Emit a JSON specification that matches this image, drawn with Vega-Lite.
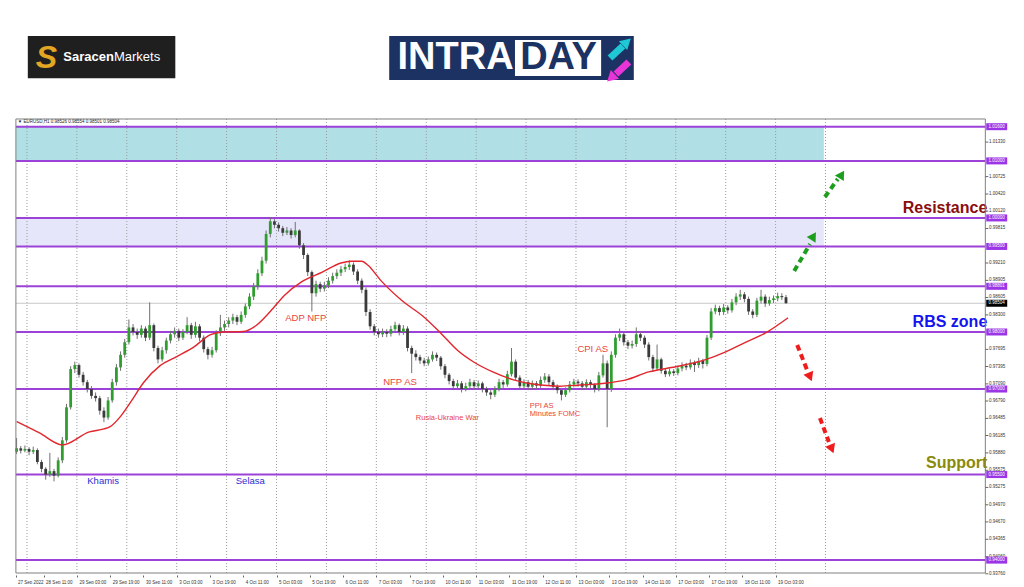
{
"$schema":"https://vega.github.io/schema/vega-lite/v6.json",
"width":1024,"height":575,"padding":0,"autosize":{"type":"pad"},
"background":"#ffffff",
"config":{"view":{"stroke":null},"font":"Liberation Sans","axis":{"labelOverlap":false}},
"resolve":{"scale":{"color":"independent"}},
"datasets":{
"candles":[
{"t":3,"o":0.9590,"h":0.9614,"l":0.9586,"c":0.9596},
{"t":5,"o":0.9596,"h":0.9600,"l":0.9587,"c":0.9592},
{"t":7,"o":0.9592,"h":0.9601,"l":0.9589,"c":0.9595},
{"t":9,"o":0.9595,"h":0.9598,"l":0.9584,"c":0.9590},
{"t":11,"o":0.9590,"h":0.9599,"l":0.9586,"c":0.9593},
{"t":13,"o":0.9593,"h":0.9596,"l":0.9568,"c":0.9572},
{"t":15,"o":0.9572,"h":0.9576,"l":0.9554,"c":0.9560},
{"t":17,"o":0.9560,"h":0.9563,"l":0.9541,"c":0.9550},
{"t":19,"o":0.9550,"h":0.9588,"l":0.9546,"c":0.9556},
{"t":21,"o":0.9556,"h":0.9560,"l":0.9538,"c":0.9548},
{"t":23,"o":0.9548,"h":0.9580,"l":0.9545,"c":0.9575},
{"t":25,"o":0.9575,"h":0.9616,"l":0.9570,"c":0.9610},
{"t":27,"o":0.9610,"h":0.9674,"l":0.9606,"c":0.9668},
{"t":29,"o":0.9668,"h":0.9740,"l":0.9664,"c":0.9735},
{"t":31,"o":0.9735,"h":0.9748,"l":0.9728,"c":0.9742},
{"t":33,"o":0.9742,"h":0.9745,"l":0.9720,"c":0.9725},
{"t":35,"o":0.9725,"h":0.9730,"l":0.9706,"c":0.9712},
{"t":37,"o":0.9712,"h":0.9716,"l":0.9694,"c":0.9700},
{"t":39,"o":0.9700,"h":0.9705,"l":0.9683,"c":0.9688},
{"t":41,"o":0.9688,"h":0.9694,"l":0.9678,"c":0.9684},
{"t":43,"o":0.9684,"h":0.9688,"l":0.9655,"c":0.9662},
{"t":45,"o":0.9662,"h":0.9668,"l":0.9642,"c":0.9650},
{"t":47,"o":0.9650,"h":0.9686,"l":0.9646,"c":0.9680},
{"t":49,"o":0.9680,"h":0.9718,"l":0.9676,"c":0.9712},
{"t":51,"o":0.9712,"h":0.9744,"l":0.9706,"c":0.9738},
{"t":53,"o":0.9738,"h":0.9766,"l":0.9732,"c":0.9760},
{"t":55,"o":0.9760,"h":0.9788,"l":0.9755,"c":0.9782},
{"t":57,"o":0.9782,"h":0.9822,"l":0.9778,"c":0.9808},
{"t":59,"o":0.9808,"h":0.9814,"l":0.9794,"c":0.9800},
{"t":61,"o":0.9800,"h":0.9806,"l":0.9788,"c":0.9795},
{"t":63,"o":0.9795,"h":0.9812,"l":0.9790,"c":0.9806},
{"t":65,"o":0.9806,"h":0.9810,"l":0.9784,"c":0.9790},
{"t":67,"o":0.9790,"h":0.9852,"l":0.9786,"c":0.9812},
{"t":69,"o":0.9812,"h":0.9815,"l":0.9766,"c":0.9772},
{"t":71,"o":0.9772,"h":0.9776,"l":0.9745,"c":0.9752},
{"t":73,"o":0.9752,"h":0.9774,"l":0.9748,"c":0.9768},
{"t":75,"o":0.9768,"h":0.9790,"l":0.9762,"c":0.9785},
{"t":77,"o":0.9785,"h":0.9802,"l":0.9780,"c":0.9796},
{"t":79,"o":0.9796,"h":0.9808,"l":0.9790,"c":0.9802},
{"t":81,"o":0.9802,"h":0.9806,"l":0.9784,"c":0.9790},
{"t":83,"o":0.9790,"h":0.9805,"l":0.9786,"c":0.9800},
{"t":85,"o":0.9800,"h":0.9826,"l":0.9796,"c":0.9812},
{"t":87,"o":0.9812,"h":0.9816,"l":0.9788,"c":0.9795},
{"t":89,"o":0.9795,"h":0.9818,"l":0.9790,"c":0.9810},
{"t":91,"o":0.9810,"h":0.9814,"l":0.9784,"c":0.9790},
{"t":93,"o":0.9790,"h":0.9794,"l":0.9764,"c":0.9770},
{"t":95,"o":0.9770,"h":0.9774,"l":0.9752,"c":0.9760},
{"t":97,"o":0.9760,"h":0.9774,"l":0.9755,"c":0.9768},
{"t":99,"o":0.9768,"h":0.9803,"l":0.9764,"c":0.9798},
{"t":101,"o":0.9798,"h":0.9830,"l":0.9793,"c":0.9808},
{"t":103,"o":0.9808,"h":0.9820,"l":0.9802,"c":0.9814},
{"t":105,"o":0.9814,"h":0.9826,"l":0.9808,"c":0.9820},
{"t":107,"o":0.9820,"h":0.9832,"l":0.9814,"c":0.9826},
{"t":109,"o":0.9826,"h":0.9830,"l":0.9812,"c":0.9818},
{"t":111,"o":0.9818,"h":0.9836,"l":0.9814,"c":0.9830},
{"t":113,"o":0.9830,"h":0.9850,"l":0.9825,"c":0.9845},
{"t":115,"o":0.9845,"h":0.9868,"l":0.9840,"c":0.9862},
{"t":117,"o":0.9862,"h":0.9886,"l":0.9856,"c":0.9880},
{"t":119,"o":0.9880,"h":0.9910,"l":0.9874,"c":0.9903},
{"t":121,"o":0.9903,"h":0.9932,"l":0.9898,"c":0.9925},
{"t":123,"o":0.9925,"h":0.9978,"l":0.9920,"c":0.9972},
{"t":125,"o":0.9972,"h":1.0001,"l":0.9966,"c":0.9994},
{"t":127,"o":0.9994,"h":0.9998,"l":0.9982,"c":0.9988},
{"t":129,"o":0.9988,"h":0.9992,"l":0.9976,"c":0.9982},
{"t":131,"o":0.9982,"h":0.9986,"l":0.9968,"c":0.9974},
{"t":133,"o":0.9974,"h":0.9984,"l":0.9970,"c":0.9978},
{"t":135,"o":0.9978,"h":0.9982,"l":0.9964,"c":0.9970},
{"t":137,"o":0.9970,"h":0.9993,"l":0.9966,"c":0.9978},
{"t":139,"o":0.9978,"h":0.9980,"l":0.9946,"c":0.9952},
{"t":141,"o":0.9952,"h":0.9956,"l":0.9928,"c":0.9935},
{"t":143,"o":0.9935,"h":0.9938,"l":0.9898,"c":0.9905},
{"t":145,"o":0.9905,"h":0.9908,"l":0.9836,"c":0.9868},
{"t":147,"o":0.9868,"h":0.9890,"l":0.9862,"c":0.9884},
{"t":149,"o":0.9884,"h":0.9888,"l":0.9870,"c":0.9876},
{"t":151,"o":0.9876,"h":0.9888,"l":0.9871,"c":0.9882},
{"t":153,"o":0.9882,"h":0.9896,"l":0.9877,"c":0.9890},
{"t":155,"o":0.9890,"h":0.9904,"l":0.9885,"c":0.9898},
{"t":157,"o":0.9898,"h":0.9910,"l":0.9893,"c":0.9904},
{"t":159,"o":0.9904,"h":0.9916,"l":0.9898,"c":0.9910},
{"t":161,"o":0.9910,"h":0.9920,"l":0.9905,"c":0.9914},
{"t":163,"o":0.9914,"h":0.9926,"l":0.9909,"c":0.9918},
{"t":165,"o":0.9918,"h":0.9922,"l":0.9900,"c":0.9906},
{"t":167,"o":0.9906,"h":0.9910,"l":0.9884,"c":0.9890},
{"t":169,"o":0.9890,"h":0.9894,"l":0.9868,"c":0.9874},
{"t":171,"o":0.9874,"h":0.9878,"l":0.9828,"c":0.9835},
{"t":173,"o":0.9835,"h":0.9840,"l":0.9804,"c":0.9810},
{"t":175,"o":0.9810,"h":0.9814,"l":0.9794,"c":0.9800},
{"t":177,"o":0.9800,"h":0.9806,"l":0.9790,"c":0.9796},
{"t":179,"o":0.9796,"h":0.9806,"l":0.9791,"c":0.9800},
{"t":181,"o":0.9800,"h":0.9805,"l":0.9791,"c":0.9797},
{"t":183,"o":0.9797,"h":0.9811,"l":0.9792,"c":0.9805},
{"t":185,"o":0.9805,"h":0.9818,"l":0.9800,"c":0.9812},
{"t":187,"o":0.9812,"h":0.9815,"l":0.9794,"c":0.9800},
{"t":189,"o":0.9800,"h":0.9812,"l":0.9795,"c":0.9806},
{"t":191,"o":0.9806,"h":0.9810,"l":0.9766,"c":0.9772},
{"t":193,"o":0.9772,"h":0.9776,"l":0.9728,"c":0.9762},
{"t":195,"o":0.9762,"h":0.9768,"l":0.9750,"c":0.9756},
{"t":197,"o":0.9756,"h":0.9760,"l":0.9744,"c":0.9750},
{"t":199,"o":0.9750,"h":0.9755,"l":0.9740,"c":0.9745},
{"t":201,"o":0.9745,"h":0.9757,"l":0.9741,"c":0.9752},
{"t":203,"o":0.9752,"h":0.9766,"l":0.9748,"c":0.9760},
{"t":205,"o":0.9760,"h":0.9764,"l":0.9749,"c":0.9755},
{"t":207,"o":0.9755,"h":0.9758,"l":0.9734,"c":0.9740},
{"t":209,"o":0.9740,"h":0.9744,"l":0.9719,"c":0.9725},
{"t":211,"o":0.9725,"h":0.9728,"l":0.9708,"c":0.9714},
{"t":213,"o":0.9714,"h":0.9718,"l":0.9698,"c":0.9705},
{"t":215,"o":0.9705,"h":0.9716,"l":0.9700,"c":0.9710},
{"t":217,"o":0.9710,"h":0.9714,"l":0.9694,"c":0.9700},
{"t":219,"o":0.9700,"h":0.9711,"l":0.9696,"c":0.9705},
{"t":221,"o":0.9705,"h":0.9718,"l":0.9700,"c":0.9712},
{"t":223,"o":0.9712,"h":0.9716,"l":0.9699,"c":0.9705},
{"t":225,"o":0.9705,"h":0.9715,"l":0.9700,"c":0.9710},
{"t":227,"o":0.9710,"h":0.9713,"l":0.9694,"c":0.9700},
{"t":229,"o":0.9700,"h":0.9704,"l":0.9688,"c":0.9694},
{"t":231,"o":0.9694,"h":0.9698,"l":0.9682,"c":0.9690},
{"t":233,"o":0.9690,"h":0.9705,"l":0.9686,"c":0.9700},
{"t":235,"o":0.9700,"h":0.9718,"l":0.9696,"c":0.9712},
{"t":237,"o":0.9712,"h":0.9716,"l":0.9702,"c":0.9708},
{"t":239,"o":0.9708,"h":0.9732,"l":0.9704,"c":0.9726},
{"t":241,"o":0.9726,"h":0.9772,"l":0.9722,"c":0.9748},
{"t":243,"o":0.9748,"h":0.9752,"l":0.9714,"c":0.9720},
{"t":245,"o":0.9720,"h":0.9724,"l":0.9699,"c":0.9705},
{"t":247,"o":0.9705,"h":0.9717,"l":0.9700,"c":0.9712},
{"t":249,"o":0.9712,"h":0.9716,"l":0.9698,"c":0.9704},
{"t":251,"o":0.9704,"h":0.9715,"l":0.9699,"c":0.9710},
{"t":253,"o":0.9710,"h":0.9714,"l":0.9700,"c":0.9706},
{"t":255,"o":0.9706,"h":0.9722,"l":0.9702,"c":0.9716},
{"t":257,"o":0.9716,"h":0.9728,"l":0.9711,"c":0.9722},
{"t":259,"o":0.9722,"h":0.9726,"l":0.9706,"c":0.9712},
{"t":261,"o":0.9712,"h":0.9716,"l":0.9698,"c":0.9704},
{"t":263,"o":0.9704,"h":0.9708,"l":0.9692,"c":0.9698},
{"t":265,"o":0.9698,"h":0.9702,"l":0.9680,"c":0.9690},
{"t":267,"o":0.9690,"h":0.9703,"l":0.9686,"c":0.9698},
{"t":269,"o":0.9698,"h":0.9714,"l":0.9694,"c":0.9708},
{"t":271,"o":0.9708,"h":0.9718,"l":0.9703,"c":0.9713},
{"t":273,"o":0.9713,"h":0.9717,"l":0.9704,"c":0.9710},
{"t":275,"o":0.9710,"h":0.9714,"l":0.9698,"c":0.9704},
{"t":277,"o":0.9704,"h":0.9717,"l":0.9700,"c":0.9712},
{"t":279,"o":0.9712,"h":0.9716,"l":0.9701,"c":0.9707},
{"t":281,"o":0.9707,"h":0.9710,"l":0.9694,"c":0.9700},
{"t":283,"o":0.9700,"h":0.9730,"l":0.9696,"c":0.9724},
{"t":285,"o":0.9724,"h":0.9760,"l":0.9720,"c":0.9745},
{"t":287,"o":0.9745,"h":0.9750,"l":0.9633,"c":0.9700},
{"t":289,"o":0.9700,"h":0.9766,"l":0.9695,"c":0.9760},
{"t":291,"o":0.9760,"h":0.9796,"l":0.9755,"c":0.9790},
{"t":293,"o":0.9790,"h":0.9806,"l":0.9784,"c":0.9796},
{"t":295,"o":0.9796,"h":0.9800,"l":0.9776,"c":0.9782},
{"t":297,"o":0.9782,"h":0.9786,"l":0.9770,"c":0.9776},
{"t":299,"o":0.9776,"h":0.9785,"l":0.9771,"c":0.9779},
{"t":301,"o":0.9779,"h":0.9808,"l":0.9774,"c":0.9796},
{"t":303,"o":0.9796,"h":0.9800,"l":0.9784,"c":0.9790},
{"t":305,"o":0.9790,"h":0.9794,"l":0.9772,"c":0.9778},
{"t":307,"o":0.9778,"h":0.9782,"l":0.9750,"c":0.9756},
{"t":309,"o":0.9756,"h":0.9760,"l":0.9730,"c":0.9736},
{"t":311,"o":0.9736,"h":0.9778,"l":0.9732,"c":0.9752},
{"t":313,"o":0.9752,"h":0.9755,"l":0.9727,"c":0.9732},
{"t":315,"o":0.9732,"h":0.9736,"l":0.9721,"c":0.9726},
{"t":317,"o":0.9726,"h":0.9736,"l":0.9722,"c":0.9731},
{"t":319,"o":0.9731,"h":0.9735,"l":0.9723,"c":0.9728},
{"t":321,"o":0.9728,"h":0.9741,"l":0.9724,"c":0.9736},
{"t":323,"o":0.9736,"h":0.9747,"l":0.9731,"c":0.9741},
{"t":325,"o":0.9741,"h":0.9746,"l":0.9733,"c":0.9738},
{"t":327,"o":0.9738,"h":0.9752,"l":0.9734,"c":0.9746},
{"t":329,"o":0.9746,"h":0.9750,"l":0.9730,"c":0.9742},
{"t":331,"o":0.9742,"h":0.9755,"l":0.9737,"c":0.9749},
{"t":333,"o":0.9749,"h":0.9753,"l":0.9736,"c":0.9744},
{"t":335,"o":0.9744,"h":0.9795,"l":0.9740,"c":0.9790},
{"t":337,"o":0.9790,"h":0.9842,"l":0.9786,"c":0.9836},
{"t":339,"o":0.9836,"h":0.9848,"l":0.9831,"c":0.9842},
{"t":341,"o":0.9842,"h":0.9846,"l":0.9829,"c":0.9835},
{"t":343,"o":0.9835,"h":0.9849,"l":0.9830,"c":0.9843},
{"t":345,"o":0.9843,"h":0.9847,"l":0.9832,"c":0.9838},
{"t":347,"o":0.9838,"h":0.9858,"l":0.9834,"c":0.9852},
{"t":349,"o":0.9852,"h":0.9868,"l":0.9847,"c":0.9862},
{"t":351,"o":0.9862,"h":0.9874,"l":0.9856,"c":0.9866},
{"t":353,"o":0.9866,"h":0.9870,"l":0.9852,"c":0.9858},
{"t":355,"o":0.9858,"h":0.9862,"l":0.9830,"c":0.9836},
{"t":357,"o":0.9836,"h":0.9840,"l":0.9824,"c":0.9830},
{"t":359,"o":0.9830,"h":0.9860,"l":0.9826,"c":0.9855},
{"t":361,"o":0.9855,"h":0.9874,"l":0.9850,"c":0.9862},
{"t":363,"o":0.9862,"h":0.9866,"l":0.9844,"c":0.9850},
{"t":365,"o":0.9850,"h":0.9862,"l":0.9846,"c":0.9856},
{"t":367,"o":0.9856,"h":0.9864,"l":0.9851,"c":0.9859},
{"t":369,"o":0.9859,"h":0.9869,"l":0.9854,"c":0.9863},
{"t":371,"o":0.9863,"h":0.9868,"l":0.9856,"c":0.9861},
{"t":373,"o":0.9861,"h":0.9865,"l":0.9850,"c":0.98504}
],
"ma":[
{"t":3,"v":0.9643},{"t":14,"v":0.9623},{"t":25,"v":0.9602},{"t":38,"v":0.9625},{"t":45,"v":0.9630},{"t":48,"v":0.9634},{"t":53,"v":0.9652},{"t":58,"v":0.9678},{"t":64,"v":0.9711},{"t":72,"v":0.9741},{"t":80,"v":0.9757},{"t":88,"v":0.9773},{"t":96,"v":0.9795},{"t":102,"v":0.9800},{"t":112,"v":0.9801},{"t":118,"v":0.9811},{"t":125,"v":0.9836},{"t":132,"v":0.9865},{"t":140,"v":0.9888},{"t":150,"v":0.9905},{"t":159,"v":0.9921},{"t":164,"v":0.9924},{"t":169,"v":0.9924},{"t":172,"v":0.9917},{"t":178,"v":0.9891},{"t":188,"v":0.9856},{"t":199,"v":0.9826},{"t":207,"v":0.9798},{"t":215,"v":0.9768},{"t":223,"v":0.9747},{"t":232,"v":0.9730},{"t":242,"v":0.9716},{"t":255,"v":0.9707},{"t":264,"v":0.9705},{"t":274,"v":0.9707},{"t":288,"v":0.9711},{"t":296,"v":0.9716},{"t":307,"v":0.9730},{"t":320,"v":0.9739},{"t":334,"v":0.9751},{"t":344,"v":0.9765},{"t":353,"v":0.9781},{"t":363,"v":0.9798},{"t":374,"v":0.9825}
],
"levels":[
{"p":1.016,"lab":"1.01600"},{"p":1.01,"lab":"1.01000"},{"p":1.0,"lab":"1.00000"},{"p":0.995,"lab":"0.99500"},{"p":0.98801,"lab":"0.98801"},{"p":0.98,"lab":"0.98000"},{"p":0.97,"lab":"0.97000"},{"p":0.955,"lab":"0.95500"},{"p":0.94,"lab":"0.94000"}
],
"yticks":[{"p":1.0133},{"p":1.00725},{"p":1.0042},{"p":1.0012},{"p":0.99815},{"p":0.9921},{"p":0.98905},{"p":0.98605},{"p":0.983},{"p":0.97695},{"p":0.97395},{"p":0.9709},{"p":0.9679},{"p":0.96485},{"p":0.96185},{"p":0.9588},{"p":0.95575},{"p":0.95275},{"p":0.9497},{"p":0.9467},{"p":0.94365},{"p":0.9406},{"p":0.9376}],
"quote":[{"p":0.98504,"lab":"0.98504"}],
"grid":[{"t":8},{"t":32},{"t":56},{"t":80},{"t":104},{"t":128},{"t":152},{"t":176},{"t":200},{"t":224},{"t":248},{"t":272},{"t":296},{"t":320},{"t":344},{"t":368},{"t":392}],
"zones":[
{"zone":"upper","t1":2.67,"t2":391.2,"p1":1.010,"p2":1.016},
{"zone":"lower","t1":2.67,"t2":391.2,"p1":0.995,"p2":1.000}
],
"notes":[
{"kind":"ev","t":132.2,"p":0.9824,"text":"ADP NFP"},
{"kind":"ev","t":179.3,"p":0.9713,"text":"NFP AS"},
{"kind":"ev","t":272.7,"p":0.9770,"text":"CPI AS"},
{"kind":"evs","t":195.0,"p":0.9650,"text":"Rusia-Ukraine War"},
{"kind":"evs","t":249.8,"p":0.9671,"text":"PPI AS"},
{"kind":"evs","t":249.8,"p":0.9656,"text":"Minutes FOMC"},
{"kind":"day","t":37.0,"p":0.9539,"text":"Khamis"},
{"kind":"day","t":108.4,"p":0.9539,"text":"Selasa"},
{"kind":"hdr","t":3.6,"p":1.01682,"text":"▼ EURUSD,H1  0.98526 0.98554 0.98501 0.98504"}
],
"big":[
{"t":469.8,"p":1.0018,"text":"Resistance"},
{"t":469.8,"p":0.9818,"text":"RBS zone"},
{"t":469.8,"p":0.9570,"text":"Support"}
],
"arrows":[
{"dir":"up","x1":376.95,"p1":0.9907,"x2":384.57,"p2":0.99543,"hx":386.24,"hp":0.99683},
{"dir":"up","x1":391.71,"p1":1.00367,"x2":397.9,"p2":1.00683,"hx":399.81,"hp":1.00762},
{"dir":"down","x1":378.38,"p1":0.97772,"x2":383.14,"p2":0.97334,"hx":384.57,"hp":0.97211},
{"dir":"down","x1":389.33,"p1":0.96492,"x2":393.62,"p2":0.96071,"hx":395.05,"hp":0.95949}
],
"logos":[
{"name":"saracen","t1":8.4,"t2":79.33,"p1":1.02449,"p2":1.0319},
{"name":"intraday","t1":182.19,"t2":299.81,"p1":1.02419,"p2":1.0319},
{"name":"daybox","t1":242.67,"t2":284.1,"p1":1.02489,"p2":1.0312}
],
"logoText":[
{"kind":"S","t":17.4,"p":1.0281,"text":"S"},
{"kind":"bold","t":25.5,"p":1.0282,"text":"Saracen"},
{"kind":"reg","t":49.8,"p":1.0282,"text":"Markets"},
{"kind":"intra","t":214.1,"p":1.0280,"text":"INTRA"},
{"kind":"dayw","t":263.6,"p":1.0280,"text":"DAY"}
],
"logoArrows":[
{"dir":"up","x1":288.38,"p1":1.02805,"x2":294.57,"p2":1.03015,"hx":296.48,"hp":1.03085},
{"dir":"down","x1":297.43,"p1":1.02734,"x2":291.24,"p2":1.02524,"hx":288.86,"hp":1.02454}
],
"frame":[{"t1":2.67,"t2":468.86,"p1":0.93774,"p2":1.01735}]
},
"layer":[
{"data":{"name":"logos"},"mark":{"type":"rect"},
 "encoding":{"x":{"field":"t1","type":"quantitative","scale":{"domain":[-2.5714,485.0476],"nice":false,"zero":false}},"x2":{"field":"t2"},
 "y":{"field":"p1","type":"quantitative","scale":{"domain":[0.93739,1.038216],"nice":false,"zero":false}},"y2":{"field":"p2"},
 "color":{"field":"name","type":"nominal","scale":{"domain":["saracen","intraday","daybox"],"range":["#1f1f1f","#1b3263","#ffffff"]},"legend":null}}},
{"data":{"name":"logoText"},"transform":[{"filter":"datum.kind == 'S'"}],"mark":{"type":"text","font":"Liberation Sans","fontWeight":"bold","fontStyle":"italic","fontSize":32,"color":"#e2a623","align":"center","baseline":"middle"},
 "encoding":{"x":{"field":"t","type":"quantitative","scale":{"domain":[-2.5714,485.0476],"nice":false,"zero":false}},"y":{"field":"p","type":"quantitative","scale":{"domain":[0.93739,1.038216],"nice":false,"zero":false}},"text":{"field":"text","type":"nominal"}}},
{"data":{"name":"logoText"},"transform":[{"filter":"datum.kind == 'bold'"}],"mark":{"type":"text","font":"Liberation Sans","fontWeight":"bold","fontSize":13,"color":"#ffffff","align":"left","baseline":"middle"},
 "encoding":{"x":{"field":"t","type":"quantitative","scale":{"domain":[-2.5714,485.0476],"nice":false,"zero":false}},"y":{"field":"p","type":"quantitative","scale":{"domain":[0.93739,1.038216],"nice":false,"zero":false}},"text":{"field":"text","type":"nominal"}}},
{"data":{"name":"logoText"},"transform":[{"filter":"datum.kind == 'reg'"}],"mark":{"type":"text","font":"Liberation Sans","fontSize":13,"color":"#ffffff","align":"left","baseline":"middle"},
 "encoding":{"x":{"field":"t","type":"quantitative","scale":{"domain":[-2.5714,485.0476],"nice":false,"zero":false}},"y":{"field":"p","type":"quantitative","scale":{"domain":[0.93739,1.038216],"nice":false,"zero":false}},"text":{"field":"text","type":"nominal"}}},
{"data":{"name":"logoText"},"transform":[{"filter":"datum.kind == 'intra'"}],"mark":{"type":"text","font":"Liberation Sans","fontWeight":"bold","fontSize":38,"color":"#ffffff","align":"center","baseline":"middle"},
 "encoding":{"x":{"field":"t","type":"quantitative","scale":{"domain":[-2.5714,485.0476],"nice":false,"zero":false}},"y":{"field":"p","type":"quantitative","scale":{"domain":[0.93739,1.038216],"nice":false,"zero":false}},"text":{"field":"text","type":"nominal"}}},
{"data":{"name":"logoText"},"transform":[{"filter":"datum.kind == 'dayw'"}],"mark":{"type":"text","font":"Liberation Sans","fontWeight":"bold","fontSize":38,"color":"#1b3263","align":"center","baseline":"middle"},
 "encoding":{"x":{"field":"t","type":"quantitative","scale":{"domain":[-2.5714,485.0476],"nice":false,"zero":false}},"y":{"field":"p","type":"quantitative","scale":{"domain":[0.93739,1.038216],"nice":false,"zero":false}},"text":{"field":"text","type":"nominal"}}},
{"data":{"name":"logoArrows"},"mark":{"type":"rule","strokeWidth":7,"strokeCap":"butt"},
 "encoding":{"x":{"field":"x1","type":"quantitative","scale":{"domain":[-2.5714,485.0476],"nice":false,"zero":false}},"x2":{"field":"x2"},"y":{"field":"p1","type":"quantitative","scale":{"domain":[0.93739,1.038216],"nice":false,"zero":false}},"y2":{"field":"p2"},
 "color":{"field":"dir","type":"nominal","scale":{"domain":["up","down"],"range":["#1ec8d4","#e935d8"]},"legend":null}}},
{"data":{"name":"logoArrows"},"transform":[{"filter":"datum.dir == 'up'"}],"mark":{"type":"point","shape":"triangle-up","filled":true,"opacity":1,"size":150,"angle":47,"color":"#1ec8d4"},
 "encoding":{"x":{"field":"hx","type":"quantitative","scale":{"domain":[-2.5714,485.0476],"nice":false,"zero":false}},"y":{"field":"hp","type":"quantitative","scale":{"domain":[0.93739,1.038216],"nice":false,"zero":false}}}},
{"data":{"name":"logoArrows"},"transform":[{"filter":"datum.dir == 'down'"}],"mark":{"type":"point","shape":"triangle-up","filled":true,"opacity":1,"size":150,"angle":227,"color":"#e935d8"},
 "encoding":{"x":{"field":"hx","type":"quantitative","scale":{"domain":[-2.5714,485.0476],"nice":false,"zero":false}},"y":{"field":"hp","type":"quantitative","scale":{"domain":[0.93739,1.038216],"nice":false,"zero":false}}}},
{"data":{"name":"zones"},"mark":{"type":"rect"},
 "encoding":{"x":{"field":"t1","type":"quantitative","scale":{"domain":[-2.5714,485.0476],"nice":false,"zero":false}},"x2":{"field":"t2"},
 "y":{"field":"p1","type":"quantitative","scale":{"domain":[0.93739,1.038216],"nice":false,"zero":false}},"y2":{"field":"p2"},
 "color":{"field":"zone","type":"nominal","scale":{"domain":["upper","lower"],"range":["#b0e0e6","#e6e6fa"]},"legend":null}}},
{"data":{"name":"grid"},"mark":{"type":"rule","color":"#9a9a9a","strokeDash":[1,2],"strokeWidth":1},
 "encoding":{"x":{"field":"t","type":"quantitative","scale":{"domain":[-2.5714,485.0476],"nice":false,"zero":false}},
 "y":{"datum":1.01735,"type":"quantitative","scale":{"domain":[0.93739,1.038216],"nice":false,"zero":false}},"y2":{"datum":0.93774}}},
{"data":{"name":"levels"},"mark":{"type":"rule","color":"#9d42d9","strokeWidth":2},
 "encoding":{"x":{"datum":2.67,"type":"quantitative","scale":{"domain":[-2.5714,485.0476],"nice":false,"zero":false}},"x2":{"datum":468.86},
 "y":{"field":"p","type":"quantitative","scale":{"domain":[0.93739,1.038216],"nice":false,"zero":false}}}},
{"data":{"name":"quote"},"mark":{"type":"rule","color":"#c8c8c8","strokeWidth":1},
 "encoding":{"x":{"datum":2.67,"type":"quantitative","scale":{"domain":[-2.5714,485.0476],"nice":false,"zero":false}},"x2":{"datum":468.86},
 "y":{"field":"p","type":"quantitative","scale":{"domain":[0.93739,1.038216],"nice":false,"zero":false}}}},
{"data":{"name":"candles"},"mark":{"type":"rule","strokeWidth":1,"color":"#707070"},
 "encoding":{"x":{"field":"t","type":"quantitative","scale":{"domain":[-2.5714,485.0476],"nice":false,"zero":false},
   "axis":{"orient":"bottom","title":null,"grid":false,"domain":false,"values":[2.5,16,32,48,64,80,96,112,128,144,160,176,192,208,224,240,256,272,288,304,320,336,352,368],
   "labelExpr":"datum.value < 10 ? '27 Sep 2022' : ['28 Sep 11:00','29 Sep 03:00','29 Sep 19:00','30 Sep 11:00','3 Oct 03:00','3 Oct 19:00','4 Oct 11:00','5 Oct 03:00','5 Oct 19:00','6 Oct 11:00','7 Oct 03:00','7 Oct 19:00','10 Oct 11:00','11 Oct 03:00','11 Oct 19:00','12 Oct 11:00','13 Oct 03:00','13 Oct 19:00','14 Oct 11:00','17 Oct 03:00','17 Oct 19:00','18 Oct 11:00','19 Oct 03:00'][round(datum.value/16)-1]",
   "labelFont":"Liberation Sans","labelFontSize":4.5,"labelColor":"#333333","labelAlign":"left","labelOffset":2,"labelPadding":2,"labelOverlap":false,"labelFlush":false,"labelBound":false,"tickSize":2,"tickColor":"#666666"}},
 "y":{"field":"l","type":"quantitative","scale":{"domain":[0.93739,1.038216],"nice":false,"zero":false},
   "axis":{"orient":"right","offset":-34,"title":null,"grid":false,"domain":false,"labels":false,"ticks":false}},
 "y2":{"field":"h"}}},
{"data":{"name":"candles"},"mark":{"type":"bar","width":2.8},
 "encoding":{"x":{"field":"t","type":"quantitative","scale":{"domain":[-2.5714,485.0476],"nice":false,"zero":false}},
 "y":{"field":"o","type":"quantitative","scale":{"domain":[0.93739,1.038216],"nice":false,"zero":false}},"y2":{"field":"c"},
 "color":{"condition":{"test":"datum.c >= datum.o","value":"#2f9e2f"},"value":"#3a3a3a"}}},
{"data":{"name":"ma"},"mark":{"type":"line","color":"#e1262d","strokeWidth":1.4,"interpolate":"monotone"},
 "encoding":{"x":{"field":"t","type":"quantitative","scale":{"domain":[-2.5714,485.0476],"nice":false,"zero":false}},
 "y":{"field":"v","type":"quantitative","scale":{"domain":[0.93739,1.038216],"nice":false,"zero":false}}}},
{"data":{"name":"notes"},"transform":[{"filter":"datum.kind == 'ev'"}],"mark":{"type":"text","font":"Liberation Sans","fontSize":9.5,"color":"#e8453c","align":"left","baseline":"middle"},
 "encoding":{"x":{"field":"t","type":"quantitative","scale":{"domain":[-2.5714,485.0476],"nice":false,"zero":false}},"y":{"field":"p","type":"quantitative","scale":{"domain":[0.93739,1.038216],"nice":false,"zero":false}},"text":{"field":"text","type":"nominal"}}},
{"data":{"name":"notes"},"transform":[{"filter":"datum.kind == 'evs'"}],"mark":{"type":"text","font":"Liberation Sans","fontSize":7.5,"color":"#e8453c","align":"left","baseline":"middle"},
 "encoding":{"x":{"field":"t","type":"quantitative","scale":{"domain":[-2.5714,485.0476],"nice":false,"zero":false}},"y":{"field":"p","type":"quantitative","scale":{"domain":[0.93739,1.038216],"nice":false,"zero":false}},"text":{"field":"text","type":"nominal"}}},
{"data":{"name":"notes"},"transform":[{"filter":"datum.kind == 'day'"}],"mark":{"type":"text","font":"Liberation Sans","fontSize":9.5,"color":"#2c2cd4","align":"left","baseline":"middle"},
 "encoding":{"x":{"field":"t","type":"quantitative","scale":{"domain":[-2.5714,485.0476],"nice":false,"zero":false}},"y":{"field":"p","type":"quantitative","scale":{"domain":[0.93739,1.038216],"nice":false,"zero":false}},"text":{"field":"text","type":"nominal"}}},
{"data":{"name":"notes"},"transform":[{"filter":"datum.kind == 'hdr'"}],"mark":{"type":"text","font":"Liberation Sans","fontSize":4.5,"color":"#222222","align":"left","baseline":"middle"},
 "encoding":{"x":{"field":"t","type":"quantitative","scale":{"domain":[-2.5714,485.0476],"nice":false,"zero":false}},"y":{"field":"p","type":"quantitative","scale":{"domain":[0.93739,1.038216],"nice":false,"zero":false}},"text":{"field":"text","type":"nominal"}}},
{"data":{"name":"big"},"mark":{"type":"text","font":"Liberation Sans","fontWeight":"bold","fontSize":16,"align":"right","baseline":"middle"},
 "encoding":{"x":{"field":"t","type":"quantitative","scale":{"domain":[-2.5714,485.0476],"nice":false,"zero":false}},"y":{"field":"p","type":"quantitative","scale":{"domain":[0.93739,1.038216],"nice":false,"zero":false}},"text":{"field":"text","type":"nominal"},
 "color":{"field":"text","type":"nominal","scale":{"domain":["Resistance","RBS zone","Support"],"range":["#8b0d0d","#1414f0","#8a8a0a"]},"legend":null}}},
{"data":{"name":"arrows"},"mark":{"type":"rule","strokeWidth":4,"strokeDash":[6,4],"strokeCap":"butt"},
 "encoding":{"x":{"field":"x1","type":"quantitative","scale":{"domain":[-2.5714,485.0476],"nice":false,"zero":false}},"x2":{"field":"x2"},"y":{"field":"p1","type":"quantitative","scale":{"domain":[0.93739,1.038216],"nice":false,"zero":false}},"y2":{"field":"p2"},
 "color":{"field":"dir","type":"nominal","scale":{"domain":["up","down"],"range":["#1e9e1e","#f01c1c"]},"legend":null}}},
{"data":{"name":"arrows"},"transform":[{"filter":"datum.dir == 'up'"}],"mark":{"type":"point","shape":"triangle-up","filled":true,"opacity":1,"size":110,"angle":32,"color":"#1e9e1e"},
 "encoding":{"x":{"field":"hx","type":"quantitative","scale":{"domain":[-2.5714,485.0476],"nice":false,"zero":false}},"y":{"field":"hp","type":"quantitative","scale":{"domain":[0.93739,1.038216],"nice":false,"zero":false}}}},
{"data":{"name":"arrows"},"transform":[{"filter":"datum.dir == 'down'"}],"mark":{"type":"point","shape":"triangle-up","filled":true,"opacity":1,"size":110,"angle":158,"color":"#f01c1c"},
 "encoding":{"x":{"field":"hx","type":"quantitative","scale":{"domain":[-2.5714,485.0476],"nice":false,"zero":false}},"y":{"field":"hp","type":"quantitative","scale":{"domain":[0.93739,1.038216],"nice":false,"zero":false}}}},
{"data":{"name":"frame"},"mark":{"type":"rect","filled":false,"stroke":"#808080","strokeWidth":1},
 "encoding":{"x":{"field":"t1","type":"quantitative","scale":{"domain":[-2.5714,485.0476],"nice":false,"zero":false}},"x2":{"field":"t2"},
 "y":{"field":"p1","type":"quantitative","scale":{"domain":[0.93739,1.038216],"nice":false,"zero":false}},"y2":{"field":"p2"}}},
{"data":{"name":"yticks"},"mark":{"type":"tick","orient":"horizontal","size":3,"thickness":1,"color":"#666666","opacity":1},
 "encoding":{"x":{"datum":469.57,"type":"quantitative","scale":{"domain":[-2.5714,485.0476],"nice":false,"zero":false}},
 "y":{"field":"p","type":"quantitative","scale":{"domain":[0.93739,1.038216],"nice":false,"zero":false}}}},
{"data":{"name":"yticks"},"mark":{"type":"text","font":"Liberation Sans","fontSize":4.5,"color":"#333333","align":"left","baseline":"middle"},
 "encoding":{"x":{"datum":470.67,"type":"quantitative","scale":{"domain":[-2.5714,485.0476],"nice":false,"zero":false}},
 "y":{"field":"p","type":"quantitative","scale":{"domain":[0.93739,1.038216],"nice":false,"zero":false}},"text":{"field":"p","type":"quantitative","format":".5f"}}},
{"data":{"name":"levels"},"mark":{"type":"tick","orient":"horizontal","size":21,"thickness":7,"color":"#9a36e6","opacity":1},
 "encoding":{"x":{"datum":474.33,"type":"quantitative","scale":{"domain":[-2.5714,485.0476],"nice":false,"zero":false}},
 "y":{"field":"p","type":"quantitative","scale":{"domain":[0.93739,1.038216],"nice":false,"zero":false}}}},
{"data":{"name":"levels"},"mark":{"type":"text","font":"Liberation Sans","fontSize":4.5,"color":"#ffffff","align":"center","baseline":"middle"},
 "encoding":{"x":{"datum":474.33,"type":"quantitative","scale":{"domain":[-2.5714,485.0476],"nice":false,"zero":false}},
 "y":{"field":"p","type":"quantitative","scale":{"domain":[0.93739,1.038216],"nice":false,"zero":false}},"text":{"field":"lab","type":"nominal"}}},
{"data":{"name":"quote"},"mark":{"type":"tick","orient":"horizontal","size":21,"thickness":7,"color":"#000000","opacity":1},
 "encoding":{"x":{"datum":474.33,"type":"quantitative","scale":{"domain":[-2.5714,485.0476],"nice":false,"zero":false}},
 "y":{"field":"p","type":"quantitative","scale":{"domain":[0.93739,1.038216],"nice":false,"zero":false}}}},
{"data":{"name":"quote"},"mark":{"type":"text","font":"Liberation Sans","fontSize":4.5,"color":"#ffffff","align":"center","baseline":"middle"},
 "encoding":{"x":{"datum":474.33,"type":"quantitative","scale":{"domain":[-2.5714,485.0476],"nice":false,"zero":false}},
 "y":{"field":"p","type":"quantitative","scale":{"domain":[0.93739,1.038216],"nice":false,"zero":false}},"text":{"field":"lab","type":"nominal"}}}
]
}
